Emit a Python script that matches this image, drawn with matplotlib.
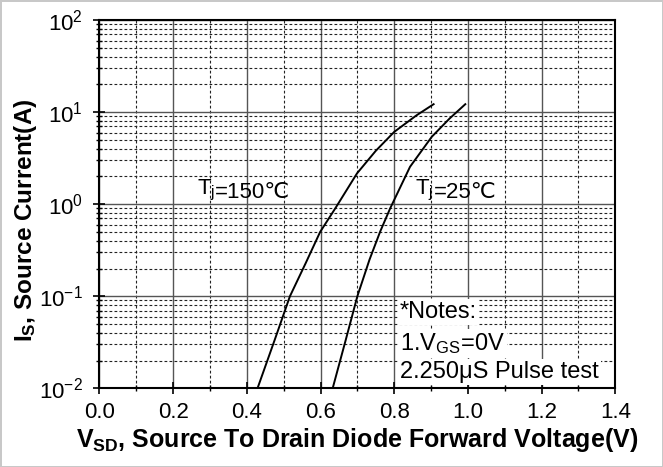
import numpy as np
import matplotlib.pyplot as plt
from matplotlib.ticker import MultipleLocator, LogLocator, LogFormatterSciNotation

plt.rcParams['font.family'] = ['Liberation Sans', 'DejaVu Sans']
plt.rcParams['mathtext.fontset'] = 'custom'
plt.rcParams['mathtext.rm'] = 'Liberation Sans'
plt.rcParams['mathtext.bf'] = 'Liberation Sans:bold'
plt.rcParams['mathtext.default'] = 'regular'

# source-drain diode forward characteristics
vsd_150 = [0.429, 0.475, 0.517, 0.560, 0.599, 0.640, 0.699, 0.750, 0.800, 0.860, 0.907]
is_150 = [0.01, 0.033, 0.1, 0.23, 0.5, 0.9, 2.16, 3.8, 6.1, 9.2, 12.2]

vsd_25 = [0.633, 0.668, 0.700, 0.733, 0.762, 0.789, 0.843, 0.902, 0.950, 0.993]
is_25 = [0.01, 0.033, 0.1, 0.25, 0.505, 0.9, 2.55, 5.4, 8.5, 12.2]

x_ticks = [0.0, 0.2, 0.4, 0.6, 0.8, 1.0, 1.2, 1.4]
notes = ['*Notes:', '1.V$_{GS}$=0V', '2.250μS Pulse test']
notes_y = [0.0673, 0.031, 0.01503]

fig = plt.figure(figsize=(6.63, 4.67), dpi=100)
fig.patch.set_edgecolor('#c8c8c8')
fig.patch.set_linewidth(2)
ax = fig.add_axes([0.150, 0.1685, 0.778, 0.7885])

ax.plot(vsd_150, is_150, color='black', linewidth=1.4)
ax.plot(vsd_25, is_25, color='black', linewidth=1.4)

ax.set_yscale('log')
ax.set_xlim(0.0, 1.4)
ax.set_ylim(1e-2, 1e2)
ax.set_xticks(x_ticks)
ax.set_xticklabels([f'{t:.1f}' for t in x_ticks])
ax.xaxis.set_minor_locator(MultipleLocator(0.1))
ax.yaxis.set_major_locator(LogLocator(base=10))
ax.yaxis.set_minor_locator(LogLocator(base=10, subs=np.arange(2, 10)))
ax.yaxis.set_major_formatter(LogFormatterSciNotation())

ax.grid(which='major', color='#555555', linestyle='-', linewidth=1.0)
ax.grid(which='minor', color='#222222', linestyle=(0, (2.5, 2)), linewidth=0.8)
ax.set_axisbelow(True)

for s in ax.spines.values():
    s.set_linewidth(1.5)

ax.tick_params(which='major', direction='inout', length=8, width=1.2, labelsize=16)
ax.tick_params(which='minor', direction='inout', length=4, width=1.0)
ax.tick_params(axis='x', pad=6)
ax.tick_params(axis='y', pad=8)

ax.set_xlabel(r'V$_{\mathbf{SD}}$, Source To Drain Diode Forward Voltage(V)',
              fontsize=18, fontweight='bold', labelpad=2)
ax.set_ylabel(r'I$_{\mathbf{S}}$, Source Current(A)', fontsize=17.5, fontweight='bold')
ax.yaxis.set_label_coords(-0.118, 0.455)

# Tj labels: subscript via mathtext, the degree sign as plain text after it
for xv, temp in [(0.265, '150'), (0.857, '25')]:
    t1 = ax.text(xv, 1.42, 'T$_{j}$', fontsize=16, va='center', ha='left')
    ax.annotate('=' + temp + '℃', xy=(1, 0), xycoords=t1, fontsize=16,
                va='bottom', ha='left')

for txt, yv in zip(notes, notes_y):
    ax.text(0.816, yv, txt, fontsize=17, va='center', ha='left',
            bbox=dict(facecolor='white', edgecolor='none', pad=1.5))

fig.savefig('out.png', dpi=100)
